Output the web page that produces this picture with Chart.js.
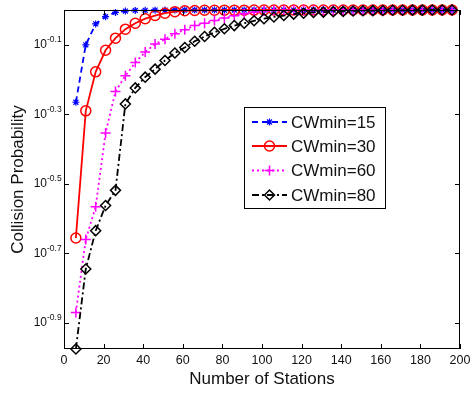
<!DOCTYPE html>
<html>
<head>
<meta charset="utf-8">
<script src="https://cdn.jsdelivr.net/npm/chart.js@4.4.0/dist/chart.umd.min.js"></script>
<style>
  body { margin: 0; background: #fff; }
  #wrap { width: 472px; height: 393px; }
</style>
</head>
<body>
<div id="wrap"><canvas id="grafico" width="472" height="393"></canvas></div>
<script>
// numero de estacoes
const estacoes = [6, 11, 16, 21, 26, 31, 36, 41, 46, 51, 56, 61, 66, 71, 76, 81, 86, 91, 96, 101,
  106, 111, 116, 121, 126, 131, 136, 141, 146, 151, 156, 161, 166, 171, 176, 181, 186, 191, 196];

const cw15 = [0.543, 0.794, 0.912, 0.957, 0.984, 0.993, 0.997, 0.998, 0.999, 0.9995,
  1, 1, 1, 1, 1, 1, 1, 1, 1, 1, 1, 1, 1, 1, 1, 1, 1, 1, 1, 1, 1, 1, 1, 1, 1, 1, 1, 1, 1];
const cw30 = [0.221, 0.513, 0.664, 0.766, 0.830, 0.881, 0.916, 0.944, 0.964, 0.979,
  0.989, 0.995, 0.997, 0.998, 0.998, 0.999, 0.999, 0.999, 0.9995,
  1, 1, 1, 1, 1, 1, 1, 1, 1, 1, 1, 1, 1, 1, 1, 1, 1, 1, 1, 1];
const cw60 = [0.135, 0.219, 0.272, 0.443, 0.583, 0.647, 0.706, 0.757, 0.798, 0.824,
  0.855, 0.877, 0.902, 0.916, 0.933, 0.948, 0.962, 0.975, 0.986, 0.994,
  0.996, 0.997, 0.998, 0.998, 0.999, 0.999, 0.9995,
  1, 1, 1, 1, 1, 1, 1, 1, 1, 1, 1, 1];
const cw80 = [0.106, 0.180, 0.232, 0.274, 0.303, 0.537, 0.597, 0.641, 0.676, 0.716,
  0.752, 0.780, 0.813, 0.839, 0.863, 0.883, 0.902, 0.916, 0.931, 0.944,
  0.955, 0.964, 0.973, 0.979, 0.984, 0.986, 0.989, 0.991, 0.993, 0.995,
  0.996, 0.997, 0.998, 0.998, 0.999, 0.999, 1, 1, 1];

const rotulos = ['CWmin=15', 'CWmin=30', 'CWmin=60', 'CWmin=80'];
const expoentesY = [-0.9, -0.7, -0.5, -0.3, -0.1]; // ticks 10^e

const pontos = (serie) => serie.map((v, i) => ({ x: estacoes[i], y: v }));

Chart.defaults.font.family = "'Liberation Sans', Arial, sans-serif";
Chart.defaults.color = '#111';

const ctx = document.getElementById('grafico').getContext('2d');

const datasets = [
  { label: rotulos[0], data: pontos(cw15), borderColor: '#0000ff', borderDash: [6, 4],
    pointStyle: 'star', pointRadius: 3.5, pointBorderWidth: 1.2, order: 4 },
  { label: rotulos[1], data: pontos(cw30), borderColor: '#ff0000', borderDash: [],
    pointStyle: 'circle', pointRadius: 5, pointBorderWidth: 1.5, order: 3 },
  { label: rotulos[2], data: pontos(cw60), borderColor: '#ff00ff', borderDash: [2, 3],
    pointStyle: 'cross', pointRadius: 5, pointBorderWidth: 1.5, order: 2 },
  { label: rotulos[3], data: pontos(cw80), borderColor: '#000000', borderDash: [7, 3, 2, 3],
    pointStyle: 'rectRot', pointRadius: 5, pointBorderWidth: 1.5, order: 1 }
].map(d => Object.assign(d, {
  borderWidth: 1.8,
  pointBorderColor: d.borderColor,
  pointBackgroundColor: 'rgba(0,0,0,0)',
  tension: 0,
  clip: false
}));

// caixa, ticks para dentro, expoentes e legenda estilo matlab
const moldura = {
  id: 'moldura',
  afterDraw(chart) {
    const c = chart.ctx;
    const a = chart.chartArea;
    const sx = chart.scales.x, sy = chart.scales.y;
    c.save();
    c.strokeStyle = '#000';
    c.lineWidth = 1;
    c.setLineDash([]);
    c.strokeRect(Math.round(a.left) + 0.5, Math.round(a.top) + 0.5,
      Math.round(a.width) - 1, Math.round(a.height) - 1);
    c.beginPath();
    sx.ticks.forEach(t => {
      const px = Math.round(sx.getPixelForValue(t.value)) + 0.5;
      c.moveTo(px, a.bottom); c.lineTo(px, a.bottom - 5);
      c.moveTo(px, a.top); c.lineTo(px, a.top + 5);
    });
    expoentesY.forEach(e => {
      const py = Math.round(sy.getPixelForValue(Math.pow(10, e))) + 0.5;
      c.moveTo(a.left, py); c.lineTo(a.left + 5, py);
      c.moveTo(a.right, py); c.lineTo(a.right - 5, py);
    });
    c.stroke();

    c.fillStyle = '#111';
    c.font = "8.5px 'Liberation Sans', Arial, sans-serif";
    c.textAlign = 'left';
    c.textBaseline = 'middle';
    expoentesY.forEach(e => {
      const py = sy.getPixelForValue(Math.pow(10, e));
      c.fillText(String(e), a.left - 17, py - 5);
    });

    // legenda
    const bx = 244, by = 107, bw = 141, bh = 101;
    c.fillStyle = '#fff';
    c.fillRect(bx, by, bw, bh);
    c.strokeStyle = '#000';
    c.strokeRect(bx + 0.5, by + 0.5, bw, bh);
    const linhas = [122, 146, 170.5, 195];
    chart.data.datasets.forEach((d, i) => {
      const ly = linhas[i];
      c.strokeStyle = d.borderColor;
      c.lineWidth = d.borderWidth;
      c.setLineDash(d.borderDash);
      c.beginPath();
      c.moveTo(252, ly); c.lineTo(287, ly);
      c.stroke();
      c.setLineDash([]);
      c.lineWidth = d.pointBorderWidth;
      c.fillStyle = 'rgba(0,0,0,0)';
      Chart.helpers.drawPoint(c, {
        pointStyle: d.pointStyle, radius: d.pointRadius,
        borderWidth: d.pointBorderWidth, rotation: 0
      }, 269.5, ly);
      c.fillStyle = '#111';
      c.font = "17px 'Liberation Sans', Arial, sans-serif";
      c.textAlign = 'left';
      c.textBaseline = 'middle';
      c.fillText(d.label, 291, ly + 1);
    });
    c.restore();
  }
};

const grafico = new Chart(ctx, {
  type: 'line',
  data: { datasets: datasets },
  options: {
    responsive: false,
    animation: false,
    layout: { padding: { top: 10, right: 12, left: 0, bottom: 0 } },
    plugins: { legend: { display: false }, tooltip: { enabled: false } },
    scales: {
      x: {
        type: 'linear',
        min: 0,
        max: 200,
        grid: { display: false, drawTicks: false },
        border: { display: false },
        ticks: { stepSize: 20, padding: 4, maxRotation: 0, font: { size: 12.5 } },
        title: { display: true, text: 'Number of Stations', font: { size: 17 }, padding: { top: 0, bottom: 3 } },
        afterFit: (s) => { s.height = 44; s.paddingLeft = 0; s.paddingRight = 0; }
      },
      y: {
        type: 'logarithmic',
        min: 0.106,
        max: 1,
        grid: { display: false, drawTicks: false },
        border: { display: false },
        afterBuildTicks: (s) => { s.ticks = expoentesY.map(e => ({ value: Math.pow(10, e) })); },
        ticks: { padding: 17, font: { size: 12 }, callback: () => '10' },
        title: { display: true, text: 'Collision Probability', font: { size: 17 }, padding: { top: 8, bottom: 0 } },
        afterFit: (s) => { s.width = 64; s.paddingTop = 0; s.paddingBottom = 0; }
      }
    }
  },
  plugins: [moldura]
});
</script>
</body>
</html>
